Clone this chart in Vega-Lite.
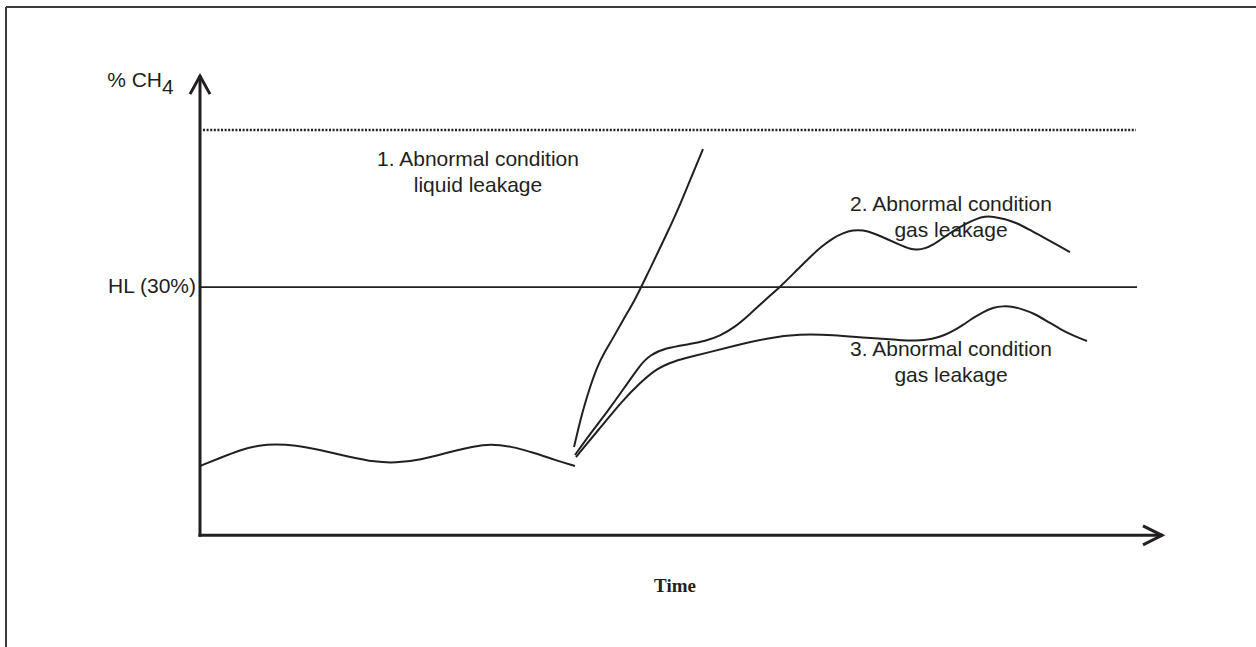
{
  "$schema": "https://vega.github.io/schema/vega-lite/v6.json",
  "width": 1256,
  "height": 647,
  "padding": 0,
  "autosize": {"type": "none"},
  "background": "white",
  "config": {"view": {"stroke": null}},
  "datasets": {
    "curves": [
      {"series": "normal", "t": 0, "c": 8.38},
      {"series": "normal", "t": 2, "c": 9.34},
      {"series": "normal", "t": 4, "c": 10.31},
      {"series": "normal", "t": 6, "c": 10.91},
      {"series": "normal", "t": 7.5, "c": 11.03},
      {"series": "normal", "t": 9.5, "c": 10.91},
      {"series": "normal", "t": 12, "c": 10.31},
      {"series": "normal", "t": 15, "c": 9.46},
      {"series": "normal", "t": 17.5, "c": 8.86},
      {"series": "normal", "t": 19.5, "c": 8.74},
      {"series": "normal", "t": 22, "c": 9.1},
      {"series": "normal", "t": 25, "c": 10.07},
      {"series": "normal", "t": 27.5, "c": 10.79},
      {"series": "normal", "t": 29, "c": 11.03},
      {"series": "normal", "t": 31, "c": 10.79},
      {"series": "normal", "t": 33.5, "c": 9.94},
      {"series": "normal", "t": 35.5, "c": 9.1},
      {"series": "normal", "t": 37.5, "c": 8.38},
      {"series": "liquid", "t": 37.4, "c": 10.67},
      {"series": "liquid", "t": 37.8, "c": 12.73},
      {"series": "liquid", "t": 38.3, "c": 15.14},
      {"series": "liquid", "t": 39.0, "c": 17.92},
      {"series": "liquid", "t": 39.7, "c": 20.34},
      {"series": "liquid", "t": 40.4, "c": 22.03},
      {"series": "liquid", "t": 41.2, "c": 23.6},
      {"series": "liquid", "t": 42.3, "c": 26.02},
      {"series": "liquid", "t": 43.5, "c": 28.44},
      {"series": "liquid", "t": 44.7, "c": 31.46},
      {"series": "liquid", "t": 46.0, "c": 34.73},
      {"series": "liquid", "t": 47.0, "c": 37.26},
      {"series": "liquid", "t": 48.0, "c": 39.92},
      {"series": "liquid", "t": 49.1, "c": 43.19},
      {"series": "liquid", "t": 50.3, "c": 46.69},
      {"series": "gas2", "t": 37.5, "c": 9.71},
      {"series": "gas2", "t": 39.0, "c": 12.24},
      {"series": "gas2", "t": 40.7, "c": 14.9},
      {"series": "gas2", "t": 42.5, "c": 17.92},
      {"series": "gas2", "t": 44.0, "c": 20.58},
      {"series": "gas2", "t": 45.0, "c": 21.79},
      {"series": "gas2", "t": 46.5, "c": 22.63},
      {"series": "gas2", "t": 49.0, "c": 23.12},
      {"series": "gas2", "t": 50.5, "c": 23.48},
      {"series": "gas2", "t": 52.0, "c": 24.09},
      {"series": "gas2", "t": 53.5, "c": 25.17},
      {"series": "gas2", "t": 55.0, "c": 26.74},
      {"series": "gas2", "t": 56.5, "c": 28.44},
      {"series": "gas2", "t": 58.0, "c": 30.0},
      {"series": "gas2", "t": 59.5, "c": 31.82},
      {"series": "gas2", "t": 61.0, "c": 33.63},
      {"series": "gas2", "t": 62.2, "c": 34.96},
      {"series": "gas2", "t": 63.3, "c": 35.93},
      {"series": "gas2", "t": 64.3, "c": 36.54},
      {"series": "gas2", "t": 65.3, "c": 36.9},
      {"series": "gas2", "t": 66.3, "c": 36.9},
      {"series": "gas2", "t": 67.3, "c": 36.54},
      {"series": "gas2", "t": 68.7, "c": 35.81},
      {"series": "gas2", "t": 70.0, "c": 35.09},
      {"series": "gas2", "t": 71.0, "c": 34.6},
      {"series": "gas2", "t": 71.7, "c": 34.5},
      {"series": "gas2", "t": 72.5, "c": 34.66},
      {"series": "gas2", "t": 73.3, "c": 35.09},
      {"series": "gas2", "t": 74.3, "c": 35.93},
      {"series": "gas2", "t": 75.3, "c": 36.78},
      {"series": "gas2", "t": 76.5, "c": 37.62},
      {"series": "gas2", "t": 77.7, "c": 38.29},
      {"series": "gas2", "t": 78.5, "c": 38.53},
      {"series": "gas2", "t": 79.3, "c": 38.53},
      {"series": "gas2", "t": 80.5, "c": 38.23},
      {"series": "gas2", "t": 81.7, "c": 37.75},
      {"series": "gas2", "t": 83.0, "c": 36.9},
      {"series": "gas2", "t": 84.3, "c": 36.06},
      {"series": "gas2", "t": 85.6, "c": 35.15},
      {"series": "gas2", "t": 87.0, "c": 34.24},
      {"series": "gas3", "t": 37.6, "c": 9.46},
      {"series": "gas3", "t": 40.0, "c": 12.97},
      {"series": "gas3", "t": 42.3, "c": 16.35},
      {"series": "gas3", "t": 44.0, "c": 18.42},
      {"series": "gas3", "t": 45.7, "c": 20.22},
      {"series": "gas3", "t": 47.5, "c": 21.07},
      {"series": "gas3", "t": 49.0, "c": 21.55},
      {"series": "gas3", "t": 51.0, "c": 22.15},
      {"series": "gas3", "t": 53.3, "c": 22.88},
      {"series": "gas3", "t": 56.7, "c": 23.85},
      {"series": "gas3", "t": 60.0, "c": 24.33},
      {"series": "gas3", "t": 63.3, "c": 24.21},
      {"series": "gas3", "t": 66.7, "c": 23.85},
      {"series": "gas3", "t": 70.0, "c": 23.6},
      {"series": "gas3", "t": 71.5, "c": 23.48},
      {"series": "gas3", "t": 73.3, "c": 23.72},
      {"series": "gas3", "t": 74.5, "c": 24.21},
      {"series": "gas3", "t": 75.3, "c": 24.69},
      {"series": "gas3", "t": 76.3, "c": 25.42},
      {"series": "gas3", "t": 77.3, "c": 26.26},
      {"series": "gas3", "t": 78.3, "c": 26.99},
      {"series": "gas3", "t": 79.3, "c": 27.53},
      {"series": "gas3", "t": 80.3, "c": 27.71},
      {"series": "gas3", "t": 81.3, "c": 27.65},
      {"series": "gas3", "t": 82.3, "c": 27.29},
      {"series": "gas3", "t": 83.3, "c": 26.87},
      {"series": "gas3", "t": 84.7, "c": 25.9},
      {"series": "gas3", "t": 86.0, "c": 24.93},
      {"series": "gas3", "t": 87.3, "c": 24.15},
      {"series": "gas3", "t": 88.7, "c": 23.48}
    ],
    "rules": [
      {"kind": "frame", "t1": -19.4, "t2": 105.6, "c1": 63.85, "c2": 63.85},
      {"kind": "frame", "t1": -19.4, "t2": -19.4, "c1": -13.5, "c2": 63.85},
      {"kind": "axis", "t1": 0, "t2": 0, "c1": 0, "c2": 55.4},
      {"kind": "axis", "t1": 0, "t2": 96.1, "c1": 0, "c2": 0},
      {"kind": "hl", "t1": 0, "t2": 93.7, "c1": 30, "c2": 30},
      {"kind": "limit", "t1": 0.3, "t2": 93.6, "c1": 49.0, "c2": 49.0}
    ],
    "arrows": [
      {"dir": "up", "t": 0, "c": 55.5},
      {"dir": "right", "t": 96.2, "c": 0}
    ],
    "labels": [
      {"t": 27.8, "c": 45.35, "text": "1. Abnormal condition"},
      {"t": 27.8, "c": 42.21, "text": "liquid leakage"},
      {"t": 75.1, "c": 39.94, "text": "2. Abnormal condition"},
      {"t": 75.1, "c": 36.78, "text": "gas leakage"},
      {"t": 75.1, "c": 22.39, "text": "3. Abnormal condition"},
      {"t": 75.1, "c": 19.25, "text": "gas leakage"}
    ],
    "hl": [{"t": -0.4, "c": 30, "text": "HL (30%)"}],
    "ylab": [{"t": -3.8, "c": 54.18, "text": "% CH"}],
    "ysub": [{"t": -3.8, "c": 53.33, "text": "4"}],
    "xlab": [{"t": 47.5, "c": -6.09, "text": "Time"}]
  },
  "encoding": {
    "x": {"field": "t", "type": "quantitative", "scale": {"domain": [-20, 105.6], "nice": false, "zero": false}, "axis": null},
    "y": {"field": "c", "type": "quantitative", "scale": {"domain": [-13.5, 64.7], "nice": false, "zero": false}, "axis": null}
  },
  "layer": [
    {
      "data": {"name": "rules"},
      "transform": [{"filter": "datum.kind === 'frame'"}],
      "mark": {"type": "rule", "color": "#3a3a3a", "strokeWidth": 2},
      "encoding": {
        "x": {"field": "t1", "type": "quantitative", "scale": {"domain": [-20, 105.6], "nice": false, "zero": false}, "axis": null},
        "x2": {"field": "t2"},
        "y": {"field": "c1", "type": "quantitative", "scale": {"domain": [-13.5, 64.7], "nice": false, "zero": false}, "axis": null},
        "y2": {"field": "c2"}
      }
    },
    {
      "data": {"name": "rules"},
      "transform": [{"filter": "datum.kind === 'axis'"}],
      "mark": {"type": "rule", "color": "#231f20", "strokeWidth": 3, "strokeCap": "square"},
      "encoding": {
        "x": {"field": "t1", "type": "quantitative"},
        "x2": {"field": "t2"},
        "y": {"field": "c1", "type": "quantitative"},
        "y2": {"field": "c2"}
      }
    },
    {
      "data": {"name": "rules"},
      "transform": [{"filter": "datum.kind === 'hl'"}],
      "mark": {"type": "rule", "color": "#231f20", "strokeWidth": 1.8},
      "encoding": {
        "x": {"field": "t1", "type": "quantitative"},
        "x2": {"field": "t2"},
        "y": {"field": "c1", "type": "quantitative"},
        "y2": {"field": "c2"}
      }
    },
    {
      "data": {"name": "rules"},
      "transform": [{"filter": "datum.kind === 'limit'"}],
      "mark": {"type": "rule", "color": "#231f20", "strokeWidth": 2.5, "strokeDash": [2, 1.6]},
      "encoding": {
        "x": {"field": "t1", "type": "quantitative"},
        "x2": {"field": "t2"},
        "y": {"field": "c1", "type": "quantitative"},
        "y2": {"field": "c2"}
      }
    },
    {
      "data": {"name": "curves"},
      "mark": {"type": "line", "interpolate": "basis", "color": "#231f20", "strokeWidth": 2},
      "encoding": {
        "detail": {"field": "series", "type": "nominal"}
      }
    },
    {
      "data": {"name": "arrows"},
      "transform": [{"filter": "datum.dir === 'up'"}],
      "mark": {"type": "point", "shape": "M-1,1.8L0,0L1,1.8", "size": 400, "filled": false, "stroke": "#231f20", "strokeWidth": 3, "opacity": 1}
    },
    {
      "data": {"name": "arrows"},
      "transform": [{"filter": "datum.dir === 'right'"}],
      "mark": {"type": "point", "shape": "M-1.9,-0.95L0,0L-1.9,0.95", "size": 400, "filled": false, "stroke": "#231f20", "strokeWidth": 3, "opacity": 1}
    },
    {
      "data": {"name": "labels"},
      "mark": {"type": "text", "font": "Liberation Sans", "fontSize": 21, "align": "center", "baseline": "middle", "color": "#231f20"},
      "encoding": {"text": {"field": "text"}}
    },
    {
      "data": {"name": "hl"},
      "mark": {"type": "text", "font": "Liberation Sans", "fontSize": 21, "align": "right", "baseline": "middle", "color": "#231f20"},
      "encoding": {"text": {"field": "text"}}
    },
    {
      "data": {"name": "ylab"},
      "mark": {"type": "text", "font": "Liberation Sans", "fontSize": 21, "align": "right", "baseline": "alphabetic", "color": "#231f20"},
      "encoding": {"text": {"field": "text"}}
    },
    {
      "data": {"name": "ysub"},
      "mark": {"type": "text", "font": "Liberation Sans", "fontSize": 21, "align": "left", "baseline": "alphabetic", "color": "#231f20"},
      "encoding": {"text": {"field": "text"}}
    },
    {
      "data": {"name": "xlab"},
      "mark": {"type": "text", "font": "Liberation Serif", "fontSize": 19, "fontWeight": "bold", "align": "center", "baseline": "middle", "color": "#231f20"},
      "encoding": {"text": {"field": "text"}}
    }
  ]
}
